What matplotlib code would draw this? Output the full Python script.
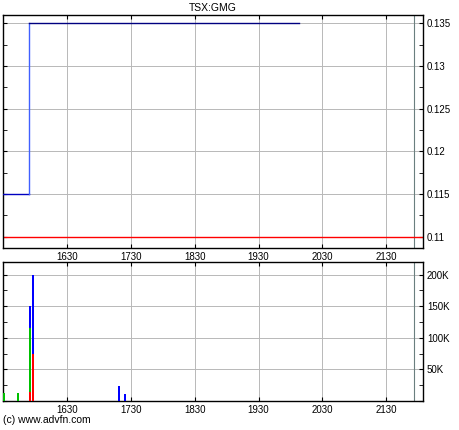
import matplotlib
matplotlib.use("Agg")
import matplotlib.pyplot as plt
from matplotlib.ticker import FuncFormatter, MultipleLocator

plt.rcParams["font.family"] = ["Liberation Sans", "DejaVu Sans"]
plt.rcParams["font.size"] = 7

title = "TSX:GMG"

# price (step line)
price_x = [1530, 1570, 1570, 1993]
price_y = [0.115, 0.115, 0.135, 0.135]
prev_close = 0.11

# volume bars, split into stacked coloured parts
vol_x = [1532, 1554, 1572, 1577, 1711, 1721]
vol_red = [0, 0, 15000, 75000, 0, 0]
vol_green = [12000, 12000, 101000, 0, 0, 0]
vol_blue = [0, 0, 34000, 125000, 24000, 11000]

x_ticks = [1630, 1730, 1830, 1930, 2030, 2130]
marker_x = 2174
x_range = (1530, 2187)

fig = plt.figure(figsize=(4.6, 4.3), dpi=100)
ax1 = fig.add_axes([0.0065, 0.4233, 0.9125, 0.5419])
ax2 = fig.add_axes([0.0065, 0.0674, 0.9125, 0.3233])

grid_kw = dict(color="#b8b8b8", linewidth=0.7)

for ax in (ax1, ax2):
    ax.set_xlim(*x_range)
    ax.set_xticks(x_ticks)
    ax.grid(True, **grid_kw)
    ax.set_axisbelow(True)
    ax.axvline(marker_x, color="#6a7f7f", linewidth=0.8, zorder=1)
    ax.yaxis.tick_right()
    ax.tick_params(axis="y", which="both", right=True, left=True, direction="in",
                   length=3, pad=3, labelsize=7)
    ax.tick_params(axis="x", which="both", top=True, bottom=True, direction="in",
                   length=3, pad=3, labelsize=7)
    for s in ax.spines.values():
        s.set_linewidth(1.0)

# price panel
ax1.set_ylim(0.10867, 0.136)
ax1.yaxis.set_major_locator(MultipleLocator(0.005))
ax1.yaxis.set_minor_locator(MultipleLocator(0.0025))
ax1.yaxis.set_major_formatter(FuncFormatter(lambda v, p: f"{v:g}"))
ax1.axhline(prev_close, color="#ff0000", linewidth=1.0, zorder=2)
ax1.plot(price_x[:2], price_y[:2], color="#0000c0", linewidth=1.0, zorder=3)
ax1.plot(price_x[1:3], price_y[1:3], color="#4060ff", linewidth=1.0, zorder=3)
ax1.plot(price_x[2:], price_y[2:], color="#000080", linewidth=1.0, zorder=3)
ax1.set_title(title, fontsize=7.5, pad=3)

# volume panel: stacked segments drawn as crisp vertical lines
bottoms = [0] * len(vol_x)
for vals, col in ((vol_red, "#ff0000"), (vol_green, "#00c000"), (vol_blue, "#0000ff")):
    tops = [b + v for b, v in zip(bottoms, vals)]
    xs = [x for x, v in zip(vol_x, vals) if v > 0]
    lo = [b for b, v in zip(bottoms, vals) if v > 0]
    hi = [t for t, v in zip(tops, vals) if v > 0]
    ax2.vlines(xs, lo, hi, colors=col, linewidth=1.4, antialiased=False, zorder=3)
    bottoms = tops
ax2.set_ylim(0, 220000)
ax2.yaxis.set_major_locator(MultipleLocator(50000))
ax2.yaxis.set_minor_locator(MultipleLocator(25000))
ax2.yaxis.set_major_formatter(FuncFormatter(lambda v, p: f"{int(v / 1000)}K" if v > 0 else ""))

fig.text(0.006, 0.012, "(c) www.advfn.com", fontsize=7.5, ha="left", va="bottom")

fig.savefig("out.png", dpi=100)
